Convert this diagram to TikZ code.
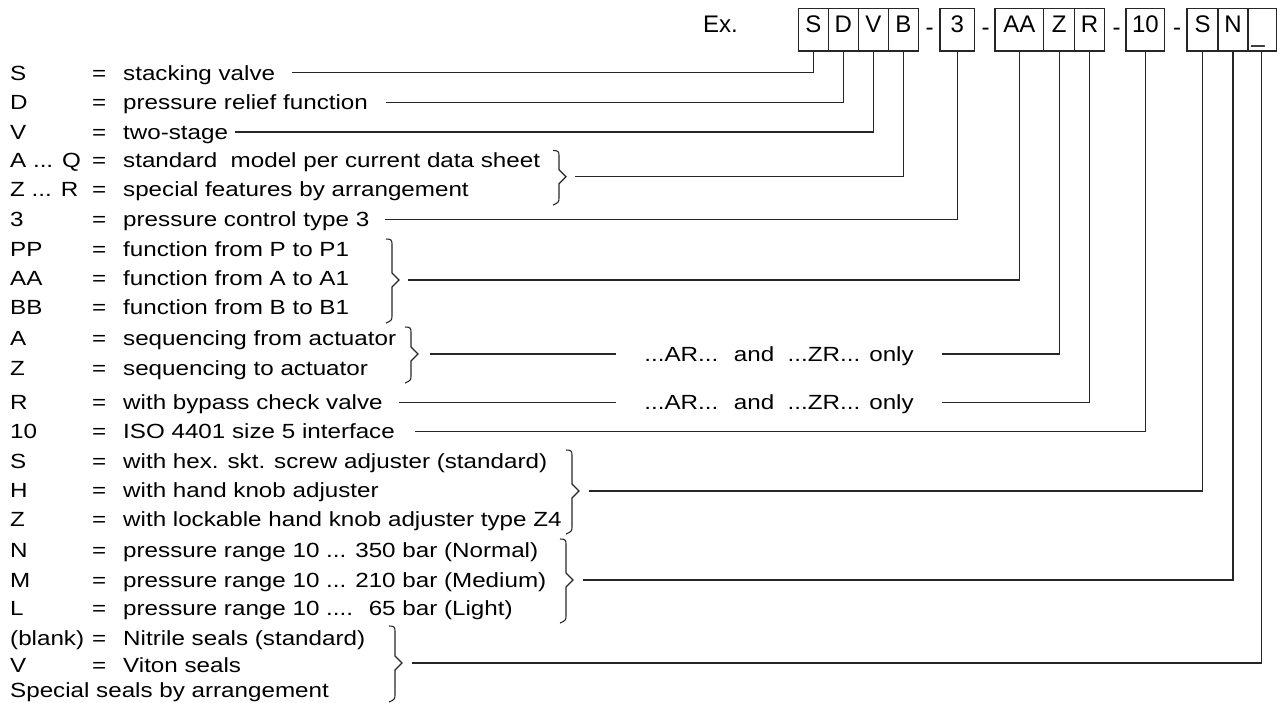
\documentclass[tikz,border=0pt]{standalone}
\usepackage{fontspec}
\setmainfont{Liberation Sans}[FakeStretch=1.18]
\newfontfamily\cellfont{Liberation Sans}
\newcommand\kvrow[4]{%
  \node[txt] (l#1) at (10,#2) {#3};
  \node[txt] (e#1) at (92,#2) {=};
  \node[txt] (d#1) at (123,#2) {#4};}
\newcommand\kvbrace[4]{%
  \pgfmathsetmacro\kvmid{(#2+#3)/2}
  \draw[ln] (#1-6,#2) .. controls (#1-1,#2) and (#1,#2+1) .. (#1,#2+5)
    -- (#1,\kvmid-7) -- (#1+7,\kvmid) -- (#1,\kvmid+7) -- (#1,#3-5)
    .. controls (#1,#3-1) and (#1-1,#3) .. (#1-6,#3+2);
  \coordinate (#4) at (#1+7,\kvmid);}
\begin{document}
\begin{tikzpicture}[x=1pt,y=-1pt,
  ln/.style={line width=1.1pt, draw=black!85},
  txt/.style={anchor=west, inner sep=0pt, text height=14.7pt, text depth=0pt,
    font=\fontsize{20.5}{24}\selectfont},
  note/.style={txt, anchor=center, inner xsep=28pt},
  cell/.style={draw=black!85, line width=1.1pt, anchor=base, inner sep=0pt,
    text height=24.4pt, text depth=18.3pt, font=\cellfont\fontsize{24}{28}\selectfont},
  ctext/.style={anchor=base, inner sep=0pt, font=\cellfont\fontsize{24}{28}\selectfont}]
\useasboundingbox (0,0) rectangle (1277,702);

% code line
\node[ctext, anchor=base west] (ex) at (703,32.7) {Ex.};
\node[cell, minimum width=30pt] (cS) at (813.3,32.7) {S};
\node[cell, minimum width=30pt] (cD) at (843.3,32.7) {D};
\node[cell, minimum width=30pt] (cV) at (873.3,32.7) {V};
\node[cell, minimum width=30pt] (cB) at (903.3,32.7) {B};
\node[ctext] (h1) at (929.5,35) {-};
\node[cell, minimum width=34.5pt] (c3) at (957.25,32.7) {3};
\node[ctext] (h2) at (985.5,35) {-};
\node[cell, minimum width=48.8pt] (cAA) at (1019.4,32.7) {AA};
\node[cell, minimum width=30.7pt] (cZ) at (1059.15,32.7) {Z};
\node[cell, minimum width=30.3pt] (cR) at (1089.65,32.7) {R};
\node[ctext] (h3) at (1116.7,35) {-};
\node[cell, minimum width=38.7pt] (c10) at (1145.35,32.7) {10};
\node[ctext] (h4) at (1177,35) {-};
\node[cell, minimum width=31pt] (cS2) at (1202.5,32.7) {S};
\node[cell, minimum width=30pt] (cN) at (1233,32.7) {N};
\node[cell, minimum width=28.6pt] (cU) at (1261.9,32.7) {};
\node[ctext] (us) at (1258,42.4) {\_};

% rows
\kvrow{0}{72.7}{S}{stacking valve}
\kvrow{1}{102.3}{D}{pressure relief function}
\kvrow{2}{132}{V}{two-stage}
\kvrow{3}{160.5}{A ... Q}{standard~ model per current data sheet}
\kvrow{4}{189.5}{Z ... R}{special features by arrangement}
\kvrow{5}{219.5}{3}{pressure control type 3}
\kvrow{6}{249}{PP}{function from P to P1}
\kvrow{7}{278}{AA}{function from A to A1}
\kvrow{8}{307.5}{BB}{function from B to B1}
\kvrow{9}{338}{A}{sequencing from actuator}
\kvrow{10}{368}{Z}{sequencing to actuator}
\kvrow{11}{402.5}{R}{with bypass check valve}
\kvrow{12}{431.5}{10}{ISO 4401 size 5 interface}
\kvrow{13}{461}{S}{with hex. skt. screw adjuster (standard)}
\kvrow{14}{490}{H}{with hand knob adjuster}
\kvrow{15}{519}{Z}{with lockable hand knob adjuster type Z4}
\kvrow{16}{550}{N}{pressure range 10 ... 350 bar (Normal)}
\kvrow{17}{580}{M}{pressure range 10 ... 210 bar (Medium)}
\kvrow{18}{608.5}{L}{pressure range 10 ....~ 65 bar (Light)}
\kvrow{19}{638}{(blank)}{Nitrile seals (standard)}
\kvrow{20}{665}{V}{Viton seals}
\node[txt] (l21) at (10,690) {Special seals by arrangement};

% braces
\kvbrace{559}{150.5}{203}{bAQ}
\kvbrace{392}{239}{321}{bPP}
\kvbrace{411}{327}{381}{bAZ}
\kvbrace{572}{450}{532}{bSHZ}
\kvbrace{566}{539}{621}{bNML}
\kvbrace{395}{626}{700}{bSeal}

% notes
\node[note] (arA) at (779,354) {...AR...~ and~ ...ZR... only};
\node[note] (arB) at (779,402.5) {...AR...~ and~ ...ZR... only};

% connectors
\draw[ln] ([xshift=17pt]d0.east) -| (cS.south);
\draw[ln] ([xshift=18pt]d1.east) -| (cD.south);
\draw[ln] ([xshift=7pt]d2.east) -| (cV.south);
\draw[ln] ([xshift=9pt]bAQ) -| (cB.south);
\draw[ln] ([xshift=16pt]d5.east) -| (c3.south);
\draw[ln] ([xshift=9pt]bPP) -| (cAA.south);
\draw[ln] ([xshift=12pt]bAZ) -- (arA.west);
\draw[ln] (arA.east) -| (cZ.south);
\draw[ln] ([xshift=16pt]d11.east) -- (arB.west);
\draw[ln] (arB.east) -| (cR.south);
\draw[ln] ([xshift=20pt]d12.east) -| (c10.south);
\draw[ln] ([xshift=10pt]bSHZ) -| (cS2.south);
\draw[ln] ([xshift=10pt]bNML) -| (cN.south);
\draw[ln] ([xshift=10pt]bSeal) -| (cU.south);
\end{tikzpicture}
\end{document}
